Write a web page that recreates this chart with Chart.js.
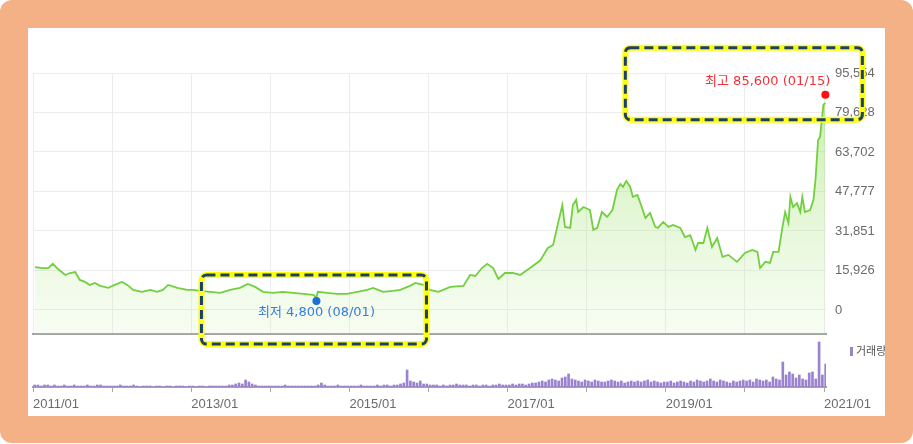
<!DOCTYPE html>
<html>
<head>
<meta charset="utf-8">
<script src="https://cdn.jsdelivr.net/npm/chart.js@4.4.1/dist/chart.umd.min.js"></script>
<style>
  html, body { margin: 0; padding: 0; background: #fff; }
  #frame { position: absolute; left: 0; top: 0; width: 913px; height: 443px; background: #f3b185; border-radius: 12px; }
  #panel { position: absolute; left: 28px; top: 28px; width: 857px; height: 388px; background: #fff; overflow: hidden; }
  #panel canvas { position: absolute; left: 0; top: 0; }
  #legend { position: absolute; left: 822px; top: 314px; line-height: 16px; font: 11px "Noto Sans CJK KR", sans-serif; color: #555; white-space: nowrap; }
  #legend i { display: inline-block; width: 3px; height: 9px; background: #9b82cf; margin-right: 3px; vertical-align: -1px; }
</style>
</head>
<body>
<div id="frame"></div>
<div id="panel">
  <canvas id="price" width="857" height="388"></canvas>
  <canvas id="volume" width="857" height="388"></canvas>
  <div id="legend"><i></i>거래량</div>
</div>
<script>
// x values are months counted from 2011/01
const months = [0.3,1.5,2.3,3.0,3.8,4.9,5.6,6.4,7.1,7.9,
  8.6,9.4,10.2,11.4,12.4,13.5,14.3,15.2,16.5,17.8,
  18.8,19.7,20.5,21.9,23.4,24.3,25.3,26.9,28.4,29.9,
  31.4,32.6,33.7,34.9,36.4,37.9,39.5,41.0,42.5,43.0,
  43.2,44.6,46.1,47.6,49.2,50.7,51.6,53.1,54.6,55.7,
  57.2,58.0,59.2,60.2,61.5,63.3,65.3,66.3,67.1,68.1,
  68.9,69.8,70.6,71.6,72.8,73.9,75.4,76.9,78.1,78.9,
  79.7,80.3,80.7,81.5,81.9,82.4,82.7,83.5,84.5,85.0,
  85.6,86.3,87.1,87.9,88.6,89.1,89.5,90.0,90.6,91.0,
  91.7,92.4,92.9,93.6,94.4,94.8,95.6,96.4,97.1,98.2,
  98.9,99.7,100.5,100.9,101.7,102.3,103.0,103.8,104.6,105.5,
  106.8,108.0,109.1,109.9,110.3,111.1,111.8,112.3,113.1,113.7,
  114.1,114.6,114.9,115.3,115.9,116.4,116.7,117.1,117.9,118.4,
  118.7,119.1,119.4,119.9,120.2];

const closes = [17300,16900,16900,18600,16500,14100,14900,15300,12100,11300,
  10100,10900,9700,8900,10100,11300,10100,8100,7300,8100,
  7300,8100,10100,8900,8100,8100,7700,7300,6900,8100,
  8900,10500,9300,7300,6900,7300,6900,6500,6100,5000,
  7300,6900,6500,6500,7300,8100,8900,7300,7700,8100,
  9700,10900,10100,8100,7300,9300,9700,14100,13700,16900,
  18600,16900,12500,14900,14900,14100,16900,19800,25000,26200,
  35500,42300,33500,33100,42300,44400,39500,41500,40300,32300,
  33100,39500,37500,40300,48400,50800,49600,52000,49600,45600,
  46400,41100,37100,39100,33500,33100,35500,33500,34300,33100,
  29400,30200,24200,27000,27000,33100,25400,29000,21400,22200,
  19400,23000,24200,23400,16900,19400,19000,23400,23400,33500,
  39500,35100,45600,41500,43100,39500,45600,39500,40300,44400,
  52400,68500,69800,82700,83500];

// half-month trading volume, 2011/01 .. 2021/01
const volumes = [
  2,2,1,2,2,1,2,1,1,2,1,1,2,1,1,1,2,1,1,2,2,1,1,1,
  1,1,2,1,1,1,2,1,0,1,1,1,0,1,1,0,1,1,0,1,1,1,0,1,
  1,0,1,1,0,1,1,1,1,1,1,2,2,3,4,3,7,5,3,2,1,1,1,1,
  1,1,1,1,2,1,1,1,1,1,1,1,1,1,2,4,2,1,1,1,2,1,1,1,
  1,1,1,2,1,1,1,1,2,1,2,2,1,2,2,3,4,17,6,5,4,6,3,3,
  2,2,2,1,2,1,2,2,3,2,2,2,1,2,2,1,2,2,1,2,2,3,2,2,
  2,3,2,3,3,2,3,4,4,5,6,5,7,8,7,6,9,10,13,8,7,6,5,7,
  6,5,7,6,5,5,6,7,6,5,6,4,5,6,5,6,5,6,7,5,6,5,4,5,
  5,6,4,5,6,5,4,6,5,7,6,5,6,8,6,5,7,6,5,4,6,5,6,7,
  6,7,5,8,7,6,7,5,10,8,7,25,12,15,13,9,12,8,7,14,15,8,45,12,
  23];

const yearTicks = [0,12,24,36,48,60,72,84,96,108,120];
const xTickLabels = ['2011/01','','2013/01','','2015/01','','2017/01','','2019/01','','2021/01'];
const priceTicks = [0,15926,31851,47777,63702,79628,95554];

const high = { month: 120.2, value: 85600, text: '최고 85,600 (01/15)' };
const low = { month: 43.0, value: 4800, text: '최저 4,800 (08/01)' };

const tickFont = { family: '"Liberation Sans", Arial, sans-serif', size: 13 };

function box(ctx, x, y, w, h) {
  ctx.beginPath();
  ctx.roundRect(x, y, w, h, 5);
  ctx.setLineDash([]);
  ctx.lineWidth = 6;
  ctx.strokeStyle = '#ffff10';
  ctx.stroke();
  ctx.setLineDash([9, 5]);
  ctx.lineWidth = 3;
  ctx.strokeStyle = '#1d4068';
  ctx.stroke();
}

function dot(ctx, x, y, color) {
  ctx.beginPath();
  ctx.arc(x, y, 4, 0, Math.PI * 2);
  ctx.fillStyle = color;
  ctx.fill();
}

const markers = {
  id: 'markers',
  afterDraw(chart) {
    const { ctx, scales: { x, y } } = chart;
    const hx = x.getPixelForValue(high.month), hy = y.getPixelForValue(high.value) - 3;
    const lx = x.getPixelForValue(low.month), ly = y.getPixelForValue(low.value) + 3;
    ctx.save();
    dot(ctx, hx, hy, '#ff1010');
    dot(ctx, lx, ly, '#1c6fdc');
    ctx.font = '13px "DejaVu Sans", "Noto Sans CJK KR", sans-serif';
    ctx.textBaseline = 'middle';
    ctx.fillStyle = '#f0323a';
    ctx.textAlign = 'right';
    ctx.fillText(high.text, hx + 5, hy - 13);
    ctx.fillStyle = '#3b7dd6';
    ctx.textAlign = 'center';
    ctx.fillText(low.text, lx, ly + 12);
    box(ctx, hx - 200, hy - 47, 237, 72);
    box(ctx, lx - 115, ly - 26, 225, 69);
    ctx.restore();
  }
};

new Chart(document.getElementById('price'), {
  type: 'line',
  data: {
    datasets: [{
      data: months.map((m, i) => ({ x: m, y: closes[i] })),
      borderColor: '#72cf3f',
      borderWidth: 1.8,
      pointRadius: 0,
      tension: 0,
      fill: 'start',
      backgroundColor: (c) => {
        const a = c.chart.chartArea;
        if (!a) return 'rgba(150,225,100,0.3)';
        const g = c.chart.ctx.createLinearGradient(0, a.top, 0, a.bottom);
        g.addColorStop(0, 'rgba(130,215,70,0.5)');
        g.addColorStop(1, 'rgba(200,240,170,0.15)');
        return g;
      }
    }]
  },
  options: {
    responsive: false,
    animation: false,
    layout: { padding: { left: 5, top: 45, right: 0, bottom: 82 } },
    plugins: { legend: { display: false }, tooltip: { enabled: false } },
    scales: {
      x: {
        type: 'linear', min: 0, max: 120.3,
        afterBuildTicks: (s) => { s.ticks = yearTicks.map(v => ({ value: v })); },
        afterFit: (s) => { s.height = 0; },
        ticks: { display: false },
        grid: { color: '#ececec', drawTicks: false },
        border: { color: '#a3a3a3', width: 2 }
      },
      y: {
        position: 'right', min: -9700, max: 95554,
        afterBuildTicks: (s) => { s.ticks = priceTicks.map(v => ({ value: v })); },
        afterFit: (s) => { s.width = 59; },
        ticks: { padding: 9, color: '#6b6b6b', font: tickFont, callback: (v) => v.toLocaleString('en-US') },
        grid: { color: '#ececec', drawTicks: false },
        border: { display: false }
      }
    }
  },
  plugins: [markers]
});

new Chart(document.getElementById('volume'), {
  type: 'bar',
  data: {
    datasets: [{
      data: volumes.map((v, i) => ({ x: i / 2 + 0.25, y: v })),
      backgroundColor: '#9b82cf',
      barThickness: 2
    }]
  },
  options: {
    responsive: false,
    animation: false,
    layout: { padding: { left: 5, top: 310, right: 59, bottom: 0 } },
    plugins: { legend: { display: false }, tooltip: { enabled: false } },
    scales: {
      x: {
        type: 'linear', min: 0, max: 120.3, offset: false,
        afterBuildTicks: (s) => { s.ticks = yearTicks.map(v => ({ value: v })); },
        afterFit: (s) => { s.height = 29; },
        grid: { drawOnChartArea: false, tickLength: 5, color: '#aaaaaa', offset: false },
        border: { color: '#a3a3a3', width: 2 },
        ticks: {
          align: 'start', padding: 5, autoSkip: false, maxRotation: 0,
          color: '#6b6b6b', font: tickFont,
          callback: (v, i) => xTickLabels[i]
        }
      },
      y: { display: false, min: 0, max: 49 }
    }
  }
});
</script>
</body>
</html>
